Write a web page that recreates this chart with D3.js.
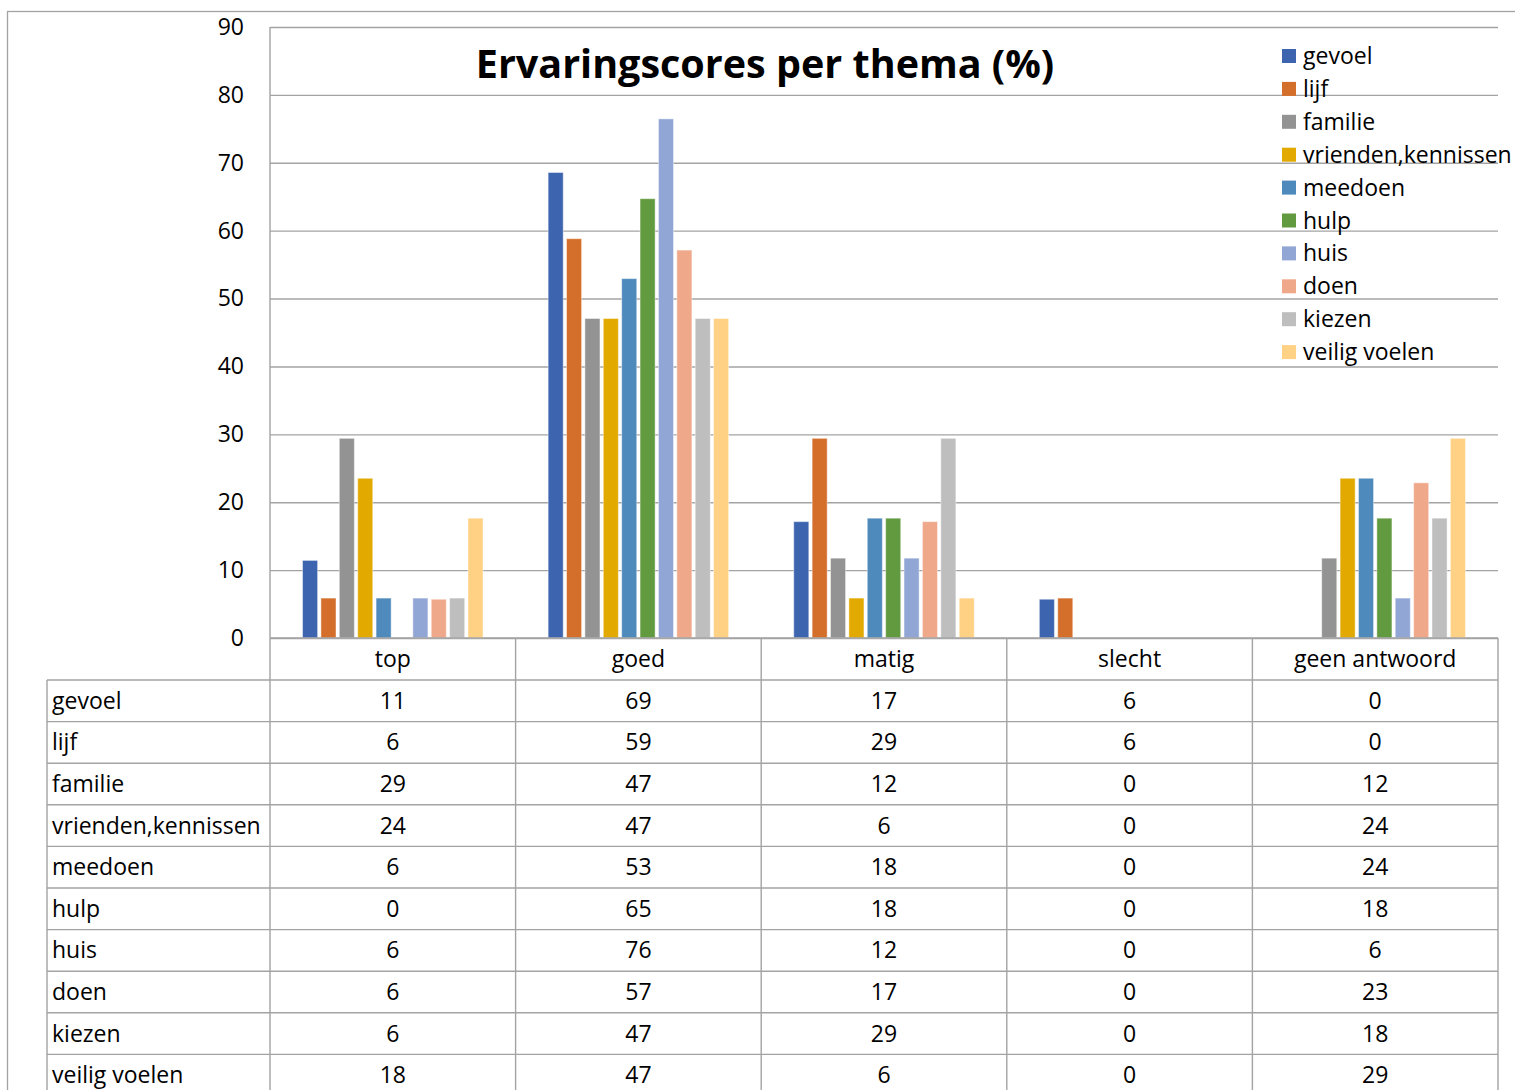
<!DOCTYPE html>
<html>
<head>
<meta charset="utf-8">
<script src="https://cdn.jsdelivr.net/npm/d3@7"></script>
<style>
  body { margin: 0; background: #fff; }
  text { font-family: "Open Sans", "Noto Sans", sans-serif; fill: #000; }
</style>
</head>
<body>
<div id="chart"></div>
<script>
// categories and series (percentages per thema)
const categories = ['top', 'goed', 'matig', 'slecht', 'geen antwoord']
const themes = ['gevoel', 'lijf', 'familie', 'vrienden,kennissen', 'meedoen', 'hulp', 'huis', 'doen', 'kiezen', 'veilig voelen']
const colors = ['#3d64ae', '#d46f2b', '#939393', '#e2aa00', '#4f8abd', '#629a3f', '#91a6d5', '#f0a88a', '#bebebe', '#ffd185']

const gevoel = [11.43, 68.57, 17.14, 5.71, 0]
const lijf = [5.88, 58.82, 29.41, 5.88, 0]
const familie = [29.41, 47.06, 11.76, 0, 11.76]
const vrienden = [23.53, 47.06, 5.88, 0, 23.53]
const meedoen = [5.88, 52.94, 17.65, 0, 23.53]
const hulp = [0, 64.71, 17.65, 0, 17.65]
const huis = [5.88, 76.47, 11.76, 0, 5.88]
const doen = [5.71, 57.14, 17.14, 0, 22.86]
const kiezen = [5.88, 47.06, 29.41, 0, 17.65]
const veilig = [17.65, 47.06, 5.88, 0, 29.41]

const yTicks = [0, 10, 20, 30, 40, 50, 60, 70, 80, 90]
const title = 'Ervaringscores per thema (%)'

const series = [gevoel, lijf, familie, vrienden, meedoen, hulp, huis, doen, kiezen, veilig]

const width = 1515, height = 1090
const plotL = 270, plotR = 1498, plotT = 27, plotB = 638
const tableLeft = 47, headH = 42, rowH = 41.6
const lineCol = '#a3a3a3'
const fs = 23

const svg = d3.select('#chart').append('svg')
  .attr('width', width).attr('height', height)

// outer chart frame
svg.append('rect')
  .attr('x', 7.5).attr('y', 11.5)
  .attr('width', width + 20).attr('height', height + 20)
  .attr('fill', 'none').attr('stroke', lineCol).attr('stroke-width', 1.3)

const y = d3.scaleLinear().domain([0, 90]).range([plotB, plotT])
const x = d3.scaleBand().domain(categories).range([plotL, plotR])
const xs = d3.scaleBand().domain(themes).range([0, x.bandwidth()])
  .paddingInner(0.18).paddingOuter(1.77)

// gridlines
svg.append('g')
  .attr('transform', `translate(${plotL},0)`)
  .call(d3.axisLeft(y).tickValues(yTicks).tickSize(-(plotR - plotL)).tickFormat(''))
  .call(g => g.select('.domain').remove())
  .call(g => g.selectAll('line').attr('stroke', lineCol).attr('stroke-width', 1.4))

// y labels
svg.append('g')
  .attr('transform', `translate(${plotL},0)`)
  .call(d3.axisLeft(y).tickValues(yTicks).tickSize(0).tickPadding(26))
  .call(g => g.select('.domain').remove())
  .call(g => g.selectAll('text').attr('font-size', fs).attr('font-family', '"Open Sans", sans-serif').attr('fill', '#000'))

// bars
themes.forEach((t, i) => {
  svg.append('g').selectAll('rect')
    .data(series[i])
    .join('rect')
    .attr('x', (d, j) => x(categories[j]) + xs(t))
    .attr('y', d => y(d))
    .attr('width', xs.bandwidth())
    .attr('height', d => plotB - y(d))
    .attr('fill', colors[i])
    .attr('stroke', '#fff').attr('stroke-opacity', 0.45).attr('stroke-width', 1)
})

// title
svg.append('text')
  .attr('x', 765).attr('y', 78)
  .attr('text-anchor', 'middle')
  .attr('font-size', 39.5).attr('font-weight', 'bold')
  .text(title)

// legend
const leg = svg.append('g').selectAll('g')
  .data(themes)
  .join('g')
  .attr('transform', (d, i) => `translate(1282,${56 + i * 32.9})`)
leg.append('rect')
  .attr('x', 0).attr('y', -7).attr('width', 14).attr('height', 14)
  .attr('fill', (d, i) => colors[i])
leg.append('text')
  .attr('x', 21).attr('dy', '0.35em')
  .attr('font-size', fs)
  .text(d => d)

// data table
const tbl = svg.append('g').attr('stroke', lineCol).attr('stroke-width', 1.4)
tbl.append('line').attr('x1', plotL).attr('x2', plotR).attr('y1', plotB).attr('y2', plotB)
categories.concat(['end']).forEach(c => {
  const xx = c === 'end' ? plotR : x(c)
  tbl.append('line').attr('x1', xx).attr('x2', xx)
    .attr('y1', c === categories[0] ? plotT : plotB).attr('y2', height + 20)
})
svg.append('g').selectAll('text')
  .data(categories)
  .join('text')
  .attr('x', d => x(d) + x.bandwidth() / 2)
  .attr('y', plotB + headH / 2)
  .attr('dy', '0.35em')
  .attr('text-anchor', 'middle')
  .attr('font-size', fs)
  .text(d => d)

// body rows
themes.forEach((t, i) => {
  const ry = plotB + headH + i * rowH
  tbl.append('line').attr('x1', tableLeft).attr('x2', plotR).attr('y1', ry).attr('y2', ry)
  svg.append('text')
    .attr('x', tableLeft + 5).attr('y', ry + rowH / 2).attr('dy', '0.35em')
    .attr('font-size', fs)
    .text(t)
  svg.append('g').selectAll('text')
    .data(series[i])
    .join('text')
    .attr('x', (d, j) => x(categories[j]) + x.bandwidth() / 2)
    .attr('y', ry + rowH / 2).attr('dy', '0.35em')
    .attr('text-anchor', 'middle')
    .attr('font-size', fs)
    .text(d => Math.round(d))
})
tbl.append('line').attr('x1', tableLeft).attr('x2', tableLeft)
  .attr('y1', plotB + headH).attr('y2', height + 20)
</script>
</body>
</html>
